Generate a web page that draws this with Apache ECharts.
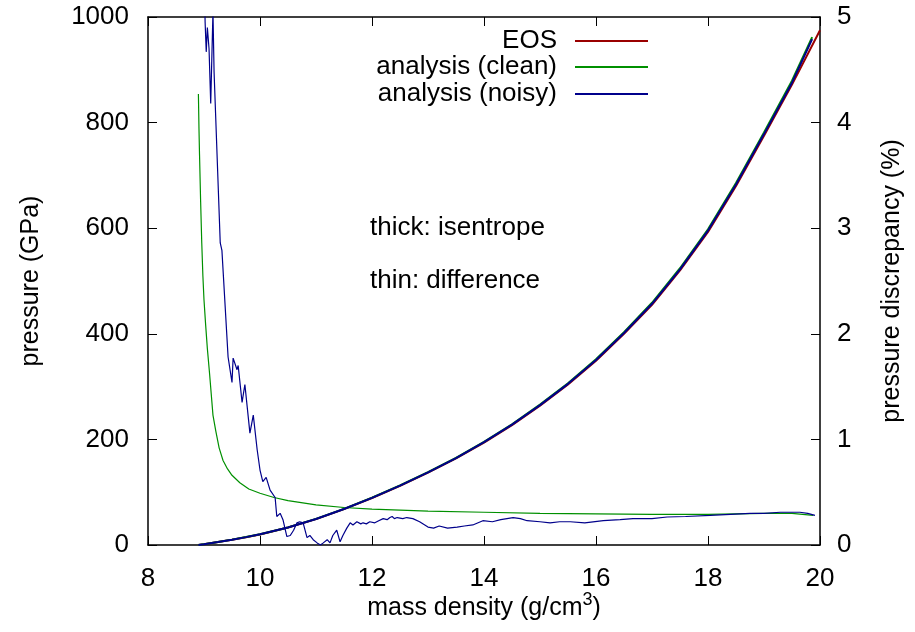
<!DOCTYPE html>
<html>
<head>
<meta charset="utf-8">
<script src="https://cdn.jsdelivr.net/npm/echarts@6/dist/echarts.min.js"></script>
<style>
html,body{margin:0;padding:0;background:#fff;}
#chart{width:915px;height:632px;}
</style>
</head>
<body>
<div id="chart"></div>
<script>
// ---- data ----
// thick lines: isentrope pressure (GPa) vs mass density (g/cm^3)
var eosRho   = [8.9, 9.0, 9.25, 9.5, 9.75, 10, 10.5, 11, 11.5, 12, 12.5, 13, 13.5, 14, 14.5, 15, 15.5, 16, 16.5, 17, 17.5, 18, 18.5, 19, 19.5, 20];
var eosP     = [0, 1.5, 5.5, 10, 14.8, 20, 33, 49, 68, 89, 112, 137, 164, 194, 227, 264, 304, 349, 400, 455, 520, 593, 680, 775, 872, 975];

var cleanRho = [8.9, 9.0, 9.25, 9.5, 9.75, 10, 10.5, 11, 11.5, 12, 12.5, 13, 13.5, 14, 14.5, 15, 15.5, 16, 16.5, 17, 17.5, 18, 18.5, 19, 19.5, 19.86];
var cleanP   = [0, 1.6, 5.6, 10.2, 15, 20.3, 33.3, 49.4, 68.5, 89.7, 112.8, 138, 165.2, 195.4, 228.7, 266, 306.4, 351.8, 403.2, 458.7, 524.2, 598, 685.6, 781.4, 879.2, 962];

var noisyRho = [8.9, 9.0, 9.25, 9.5, 9.75, 10, 10.5, 11, 11.5, 12, 12.5, 13, 13.5, 14, 14.5, 15, 15.5, 16, 16.5, 17, 17.5, 18, 18.5, 19, 19.5, 19.86];
var noisyP   = [0, 1.5, 5.5, 10.1, 14.9, 20.2, 33.1, 49.2, 68.2, 89.3, 112.4, 137.5, 164.6, 194.8, 227.9, 265, 305.2, 350.4, 401.6, 456.9, 522.1, 595.5, 682.8, 778.2, 875.6, 958];

// thin lines: pressure discrepancy (%) vs mass density
var cleanDiffRho = [8.9, 8.91, 8.92, 8.94, 8.96, 8.98, 9.0, 9.03, 9.06, 9.1, 9.16, 9.21, 9.27, 9.34, 9.42, 9.5, 9.64, 9.8, 10, 10.25, 10.5, 11, 11.5, 12, 12.5, 13, 14, 15, 16, 17, 18, 18.5, 19, 19.5, 19.88];
var cleanDiff    = [4.27, 3.95, 3.7, 3.25, 2.86, 2.55, 2.32, 2.08, 1.86, 1.62, 1.23, 1.08, 0.92, 0.8, 0.72, 0.66, 0.59, 0.53, 0.49, 0.45, 0.42, 0.38, 0.355, 0.34, 0.33, 0.32, 0.31, 0.3, 0.295, 0.29, 0.29, 0.295, 0.3, 0.3, 0.28];

var noisyDiffRho = [9.0, 9.02, 9.04, 9.06, 9.09, 9.12, 9.16, 9.18, 9.21, 9.29, 9.32, 9.43, 9.5, 9.52, 9.59, 9.61, 9.68, 9.73, 9.82, 9.88, 9.95, 10.0, 10.05, 10.11, 10.18, 10.27, 10.3, 10.36, 10.41, 10.48, 10.54, 10.6, 10.66, 10.71, 10.77, 10.84, 10.89, 10.95, 11.02, 11.08, 11.13, 11.2, 11.25, 11.3, 11.37, 11.43, 11.48, 11.55, 11.61, 11.66, 11.73, 11.8, 11.84, 11.9, 11.96, 12.05, 12.12, 12.2, 12.27, 12.32, 12.36, 12.4, 12.45, 12.55, 12.62, 12.73, 12.85, 13.0, 13.1, 13.2, 13.35, 13.52, 13.65, 13.8, 13.98, 14.15, 14.3, 14.52, 14.65, 14.77, 15.0, 15.18, 15.35, 15.54, 15.8, 16.13, 16.43, 16.66, 17.0, 17.27, 17.6, 18.04, 18.4, 18.75, 19.0, 19.29, 19.5, 19.64, 19.78, 19.91];
var noisyDiff    = [5.5, 4.95, 4.67, 4.9, 4.7, 4.18, 5.05, 4.48, 4.47, 2.86, 2.79, 1.78, 1.54, 1.77, 1.66, 1.7, 1.35, 1.52, 1.06, 1.23, 0.9, 0.71, 0.6, 0.64, 0.52, 0.45, 0.27, 0.3, 0.24, 0.08, 0.09, 0.14, 0.21, 0.22, 0.21, 0.07, 0.09, 0.05, 0.02, 0.0, 0.02, 0.05, 0.02, 0.09, 0.14, 0.03, 0.09, 0.16, 0.21, 0.19, 0.22, 0.2, 0.21, 0.2, 0.22, 0.21, 0.23, 0.25, 0.24, 0.26, 0.27, 0.25, 0.26, 0.25, 0.26, 0.25, 0.22, 0.17, 0.16, 0.18, 0.16, 0.17, 0.18, 0.19, 0.23, 0.22, 0.24, 0.26, 0.25, 0.23, 0.22, 0.21, 0.22, 0.22, 0.21, 0.23, 0.24, 0.25, 0.25, 0.265, 0.27, 0.28, 0.29, 0.3, 0.3, 0.31, 0.31, 0.31, 0.3, 0.28];

var xTicks = {min: 8, max: 20, interval: 2};
var yLeftTicks = {min: 0, max: 1000, interval: 200};
var yRightTicks = {min: 0, max: 5, interval: 1};

var seriesNames = ['EOS', 'analysis (clean)', 'analysis (noisy)'];
var colors = ['#9a0000', '#009000', '#00008b'];

function pairs(xs, ys) { return xs.map(function (x, i) { return [x, ys[i]]; }); }

var FONT = '"Liberation Sans", Arial, sans-serif';
var HFS = 26;  // horizontal text size
var VFS = 25;  // rotated title size

var chart = echarts.init(document.getElementById('chart'), null, {renderer: 'canvas'});

function legendFor(i, top) {
  return {
    data: [{name: seriesNames[i], icon: 'rect'}],
    right: 267, top: top, padding: 0,
    orient: 'vertical', align: 'right',
    itemWidth: 73, itemHeight: 2,
    selectedMode: false,
    textStyle: {fontFamily: FONT, fontSize: HFS, color: '#000', padding: [0, 13, 0, 0]}
  };
}

var axisLineStyle = {color: '#000', width: 1.5};
var tickStyle = {show: true, inside: true, length: 9, lineStyle: {color: '#000', width: 1}};
function plain(v) { return String(v); }

var option = {
  animation: false,
  backgroundColor: '#fff',
  color: colors,
  grid: {left: 148, right: 95, top: 17, bottom: 87, containLabel: false, outerBoundsMode: 'none'},
  legend: [legendFor(0, 28), legendFor(1, 54), legendFor(2, 81)],
  xAxis: [{
    type: 'value', position: 'bottom',
    min: xTicks.min, max: xTicks.max, interval: xTicks.interval,
    name: '{b|mass density (g/cm}{s|3}{b|)}', nameLocation: 'middle', nameGap: 46,
    nameMoveOverlap: false,
    nameTextStyle: {fontFamily: FONT, fontSize: 25, color: '#000',
      rich: {
        b: {fontFamily: FONT, fontSize: 25, color: '#000', lineHeight: 30, verticalAlign: 'bottom'},
        s: {fontFamily: FONT, fontSize: 18, color: '#000', lineHeight: 18, verticalAlign: 'top'}
      }},
    axisLine: {show: true, onZero: false, lineStyle: axisLineStyle},
    axisTick: tickStyle,
    axisLabel: {fontFamily: FONT, fontSize: HFS, color: '#000', margin: 21, formatter: plain},
    splitLine: {show: false}
  }, {
    type: 'value', position: 'top',
    min: xTicks.min, max: xTicks.max, interval: xTicks.interval,
    axisLine: {show: true, onZero: false, lineStyle: axisLineStyle},
    axisTick: tickStyle,
    axisLabel: {show: false},
    splitLine: {show: false}
  }],
  yAxis: [{
    type: 'value', position: 'left',
    min: yLeftTicks.min, max: yLeftTicks.max, interval: yLeftTicks.interval,
    name: 'pressure (GPa)', nameLocation: 'middle', nameGap: 104, nameRotate: 90,
    nameMoveOverlap: false,
    nameTextStyle: {fontFamily: FONT, fontSize: VFS, color: '#000'},
    axisLine: {show: true, onZero: false, lineStyle: axisLineStyle},
    axisTick: tickStyle,
    axisLabel: {fontFamily: FONT, fontSize: HFS, color: '#000', margin: 19, formatter: plain},
    splitLine: {show: false}
  }, {
    type: 'value', position: 'right',
    min: yRightTicks.min, max: yRightTicks.max, interval: yRightTicks.interval,
    name: 'pressure discrepancy (%)', nameLocation: 'middle', nameGap: 60, nameRotate: 90,
    nameMoveOverlap: false,
    nameTextStyle: {fontFamily: FONT, fontSize: VFS, color: '#000'},
    axisLine: {show: true, onZero: false, lineStyle: axisLineStyle},
    axisTick: tickStyle,
    axisLabel: {fontFamily: FONT, fontSize: HFS, color: '#000', margin: 17, formatter: plain},
    splitLine: {show: false}
  }],
  graphic: [
    {type: 'text', x: 370, y: 228, style: {text: 'thick: isentrope', fontFamily: FONT, fontSize: HFS, fill: '#000', verticalAlign: 'middle'}},
    {type: 'text', x: 370, y: 281, style: {text: 'thin: difference', fontFamily: FONT, fontSize: HFS, fill: '#000', verticalAlign: 'middle'}}
  ],
  series: [
    {name: seriesNames[0], type: 'line', xAxisIndex: 0, yAxisIndex: 0, data: pairs(eosRho, eosP),
     showSymbol: false, symbol: 'none', smooth: false, clip: true,
     lineStyle: {color: colors[0], width: 2}, itemStyle: {color: colors[0]}, z: 2},
    {name: seriesNames[1], type: 'line', xAxisIndex: 0, yAxisIndex: 0, data: pairs(cleanRho, cleanP),
     showSymbol: false, symbol: 'none', smooth: false, clip: true,
     lineStyle: {color: colors[1], width: 2}, itemStyle: {color: colors[1]}, z: 3},
    {name: seriesNames[2], type: 'line', xAxisIndex: 0, yAxisIndex: 0, data: pairs(noisyRho, noisyP),
     showSymbol: false, symbol: 'none', smooth: false, clip: true,
     lineStyle: {color: colors[2], width: 2}, itemStyle: {color: colors[2]}, z: 4},
    {name: seriesNames[1], type: 'line', xAxisIndex: 0, yAxisIndex: 1, data: pairs(cleanDiffRho, cleanDiff),
     showSymbol: false, symbol: 'none', smooth: false, clip: true,
     lineStyle: {color: colors[1], width: 1.2}, itemStyle: {color: colors[1]}, z: 3},
    {name: seriesNames[2], type: 'line', xAxisIndex: 0, yAxisIndex: 1, data: pairs(noisyDiffRho, noisyDiff),
     showSymbol: false, symbol: 'none', smooth: false, clip: true,
     lineStyle: {color: colors[2], width: 1.2}, itemStyle: {color: colors[2]}, z: 4}
  ]
};
chart.setOption(option);
</script>
</body>
</html>
